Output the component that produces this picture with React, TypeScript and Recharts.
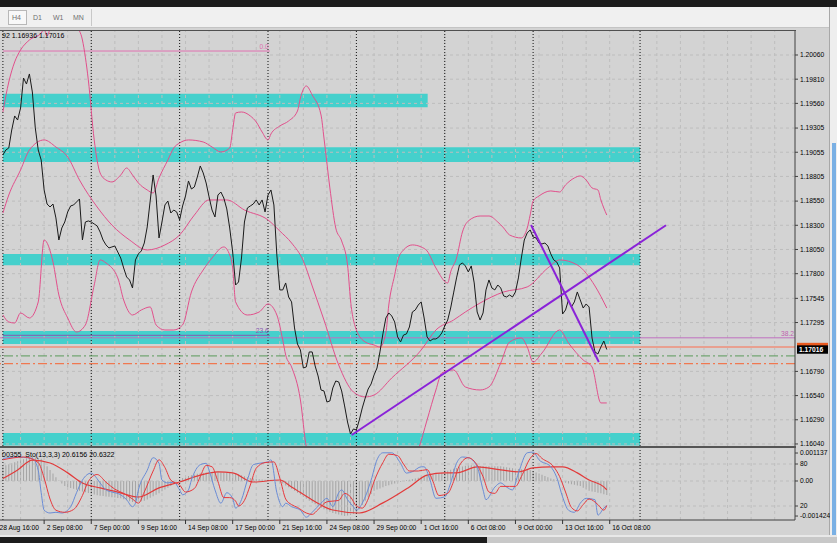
import React from "react";
import { ComposedChart, Line, Bar, XAxis, YAxis, ReferenceLine, ReferenceArea } from "recharts";

const FONT = "'Liberation Sans', Arial, sans-serif";
const BG = "#d3d3d3";
const BAND = "#e2508c";
const GRID = "#bdbdbd";
const X_MAX = 270.9; // bars visible, index 0 = 28 Aug 16:00 (H4)

// ---- price data (H4 closes from bar 2) ----
const firstBar = 2;
const closes = [
  1.19027, 1.19078, 1.19099, 1.19285, 1.1943, 1.19388, 1.19512, 1.19822, 1.1976, 1.19864, 1.19678, 1.19306, 1.19078, 1.18975, 1.18665, 1.1852, 1.18489, 1.1852, 1.18376, 1.18148,
  1.18272, 1.18334, 1.18438, 1.185, 1.1851, 1.18541, 1.18572, 1.18148, 1.18334, 1.18345, 1.18334, 1.18314, 1.18293, 1.18231, 1.18148, 1.18097, 1.18066, 1.18076, 1.18086, 1.18024,
  1.17962, 1.17859, 1.17766, 1.17735, 1.17652, 1.17942, 1.18004, 1.18035, 1.18117, 1.18283, 1.18551, 1.1882, 1.18603, 1.18169, 1.18334, 1.1851, 1.18551, 1.18427, 1.18458, 1.18438,
  1.18355, 1.185, 1.18603, 1.18758, 1.18675, 1.18696, 1.18799, 1.18913, 1.18841, 1.18737, 1.18593, 1.18458, 1.18386, 1.18613, 1.18644, 1.18582, 1.18469, 1.18272, 1.18024, 1.17683,
  1.17714, 1.17962, 1.18334, 1.18479, 1.185, 1.1852, 1.18562, 1.1851, 1.18562, 1.18438, 1.18613, 1.18665, 1.1851, 1.17993, 1.17632, 1.17632, 1.17704, 1.17559, 1.17508, 1.17239,
  1.17073, 1.17011, 1.16825, 1.16836, 1.16991, 1.16991, 1.16846, 1.16743, 1.16598, 1.16588, 1.16474, 1.16484, 1.16619, 1.16691, 1.16681, 1.16588, 1.16433, 1.16267, 1.16143, 1.16195,
  1.16185, 1.16288, 1.16412, 1.16515, 1.16608, 1.1666, 1.16753, 1.16825, 1.16991, 1.17177, 1.17342, 1.17394, 1.17363, 1.17301, 1.17146, 1.17094, 1.17166, 1.17177, 1.17249, 1.17404,
  1.17425, 1.17476, 1.17508, 1.17342, 1.17146, 1.17104, 1.17125, 1.17125, 1.17146, 1.17187, 1.17259, 1.17321, 1.17445, 1.17601, 1.17756, 1.1789, 1.17911, 1.1788, 1.17818, 1.1788,
  1.17704, 1.17404, 1.17321, 1.17394, 1.17632, 1.17735, 1.17652, 1.17632, 1.17683, 1.17652, 1.1757, 1.17559, 1.1758, 1.17559, 1.17611, 1.17756, 1.17962, 1.18148, 1.18221, 1.18252,
  1.18179, 1.18169, 1.18117, 1.18107, 1.18117, 1.18086, 1.18004, 1.17942, 1.17921, 1.17859, 1.17383, 1.17425, 1.17528, 1.17456, 1.17508, 1.17611, 1.17528, 1.17445, 1.17487, 1.17456,
  1.17135, 1.16991, 1.1697, 1.17042, 1.17104, 1.17016,
];

// bollinger bands [bar, price]
const bbUpper: [number, number][] = [
  [2, 1.19471], [4, 1.19781], [6, 1.19988], [8, 1.20112], [11, 1.20215], [15, 1.20287], [16, 1.20329], [17, 1.20256], [18, 1.20329],
  [21, 1.20473], [25, 1.20525], [27, 1.2037], [29, 1.20215], [31, 1.19802], [33, 1.19182], [35, 1.18841], [37, 1.18768], [39, 1.18748],
  [42, 1.1882], [44, 1.18892], [46, 1.1882], [48, 1.18737], [51, 1.18665], [53, 1.18634], [55, 1.18789], [58, 1.18975], [60, 1.19099],
  [62, 1.19151], [65, 1.19182], [70, 1.19161], [73, 1.19109], [76, 1.19058], [79, 1.19099], [80, 1.19285], [81, 1.19461], [83, 1.19471],
  [86, 1.1943], [88, 1.19368], [90, 1.19264], [92, 1.19182], [93, 1.19244], [96, 1.19326], [99, 1.19378], [102, 1.19481], [103, 1.19616],
  [105, 1.1974], [107, 1.19647], [110, 1.1944], [111, 1.19202], [113, 1.18686], [115, 1.18272], [117, 1.18138], [119, 1.1789], [120, 1.17528],
  [122, 1.17218], [125, 1.17094], [128, 1.17063], [130, 1.17042], [132, 1.17187], [133, 1.17476], [135, 1.17787], [136, 1.17931], [138, 1.18045],
  [141, 1.18097], [144, 1.18076], [146, 1.18035], [149, 1.17859], [153, 1.17704], [154, 1.17818], [156, 1.17962], [158, 1.18231], [160, 1.18345],
  [164, 1.18396], [167, 1.18396], [170, 1.18334], [172, 1.18272], [174, 1.182], [178, 1.18169], [180, 1.18272], [181, 1.18407], [182, 1.18551],
  [184, 1.18603], [188, 1.18655], [191, 1.18644], [193, 1.18717], [196, 1.18789], [198, 1.1881], [200, 1.18768], [202, 1.18686], [204, 1.18665],
  [205, 1.18562], [207, 1.18406],
];
const bbMiddle: [number, number][] = [
  [2, 1.18427], [4, 1.18613], [8, 1.18872], [11, 1.19078], [16, 1.19182], [20, 1.19109], [24, 1.19006], [28, 1.18768], [34, 1.18489],
  [39, 1.18303], [45, 1.18148], [51, 1.18045], [57, 1.18097], [62, 1.182], [67, 1.18406], [72, 1.18562], [78, 1.18562], [84, 1.18458],
  [92, 1.18355], [96, 1.18241], [100, 1.18117], [104, 1.17931], [107, 1.17673], [111, 1.17321], [116, 1.16856], [121, 1.16577], [125, 1.16526],
  [128, 1.16546], [134, 1.16722], [144, 1.17011], [149, 1.17218], [155, 1.17321], [159, 1.17404], [164, 1.17497], [172, 1.17611], [180, 1.17663],
  [187, 1.17859], [191, 1.17942], [197, 1.1789], [203, 1.17673], [207, 1.17445],
];
const bbLower: [number, number][] = [
  [2, 1.17373], [4, 1.17301], [6, 1.1729], [8, 1.17394], [11, 1.17342], [14, 1.17508], [16, 1.18148], [19, 1.17921], [21, 1.1758],
  [24, 1.17342], [27, 1.17197], [30, 1.1727], [33, 1.17683], [35, 1.17942], [37, 1.17911], [41, 1.17756], [43, 1.17528], [46, 1.17373],
  [49, 1.17425], [52, 1.17456], [54, 1.1727], [57, 1.17218], [60, 1.17218], [63, 1.1727], [66, 1.17611], [70, 1.17838], [73, 1.17962],
  [77, 1.18076], [79, 1.17993], [80, 1.17859], [81, 1.17508], [85, 1.17373], [89, 1.17404], [92, 1.17487], [95, 1.17373], [97, 1.17115],
  [98, 1.1696], [100, 1.16836], [103, 1.16495], [105, 1.16009], [108, 1.15771], [116, 1.15668], [127, 1.15926], [135, 1.15668], [140, 1.15771],
  [143, 1.15978], [146, 1.16288], [149, 1.16598], [151, 1.16774], [155, 1.16805], [159, 1.16629], [164, 1.16598], [167, 1.16629], [171, 1.16877],
  [174, 1.17094], [178, 1.17135], [180, 1.17042], [182, 1.16887], [185, 1.1698], [191, 1.17218], [194, 1.17084], [199, 1.16908], [202, 1.16836],
  [205, 1.16464], [207, 1.16464],
];

// chart objects
const zones: [number, number, number, number][] = [
  [2, 146.2, 1.1952, 1.1966],
  [2, 218.3, 1.18954, 1.19106],
  [2, 218.3, 1.17887, 1.18004],
  [2, 218.3, 1.17074, 1.17208],
  [2, 218.3, 1.16023, 1.16154],
];
const trendLines: [number, number, number, number][] = [
  [120.4, 1.16133, 227.1, 1.183],
  [181.3, 1.18303, 204.3, 1.16887],
];
const fibEnd = 92.6;
const fib0 = 1.20101;
const fib236 = 1.17163;
const fib382 = 1.17137;
const askPrice = 1.17042;
const bidPrice = 1.17016;
const greenLevel = 1.1695;
const orangeLevel = 1.1687;

// axes
const priceTicks = [1.2006, 1.1981, 1.1956, 1.19305, 1.19055, 1.18805, 1.1855, 1.183, 1.1805, 1.178, 1.17545, 1.17295, 1.1679, 1.1654, 1.1629, 1.1604];
const separators = [2, 32, 62, 92, 122, 152, 182, 218.3];
const gridBars = Array.from({ length: 34 }, (_, k) => k * 8);
const dateTicks = [0, 16, 32, 48, 64, 80, 96, 112, 128, 144, 160, 176, 192, 208];
const dateLabels = ["28 Aug 16:00", "2 Sep 08:00", "7 Sep 00:00", "9 Sep 16:00", "14 Sep 08:00", "17 Sep 00:00", "21 Sep 16:00", "24 Sep 08:00", "29 Sep 00:00", "1 Oct 16:00", "6 Oct 08:00", "9 Oct 00:00", "13 Oct 16:00", "16 Oct 08:00"];

// ---- indicator data ----
// MACD histogram per bar from bar 2, in 1e-5 units
const macdHistE5 = [
  60, 64, 68, 72, 76, 80, 84, 88, 92, 96, 98, 96, 93, 90, 76, 60, 45, 30, 15, 2,
  -10, -20, -24, -28, -32, -36, -40, -43, -46, -49, -52, -55, -58, -60, -61, -63, -64, -66, -67, -69,
  -70, -74, -78, -82, -85, -84, -83, -82, -80, -75, -68, -62, -56, -50, -42, -35, -27, -20, -10, 0,
  6, 12, 16, 20, 23, 26, 29, 31, 33, 35, 36, 37, 37, 36, 35, 34, 33, 32, 31, 30,
  27, 23, 19, 15, 12, 10, 9, 7, 6, 5, 5, 5, 5, 0, -5, -10, -18, -25, -32, -40,
  -48, -56, -64, -72, -80, -88, -95, -103, -110, -115, -120, -125, -130, -133, -136, -139, -142, -140, -137, -134,
  -130, -115, -98, -80, -66, -53, -40, -35, -30, -25, -20, -17, -13, -10, -7, -3, 0, 3, 5, 8,
  10, 13, 17, 20, 22, 24, 26, 28, 30, 34, 38, 42, 46, 50, 53, 56, 59, 62, 65, 64,
  63, 62, 61, 60, 60, 60, 60, 60, 60, 60, 58, 56, 54, 52, 50, 49, 48, 47, 46, 45,
  40, 35, 30, 25, 20, 15, 10, 7, 3, 0, -3, -7, -10, -13, -15, -18, -20, -27, -33, -40,
  -43, -45, -48, -50, -54, -57,
];
const macdSignal: [number, number][] = [
  [2, 0.0001], [7, 0.00045], [12, 0.00085], [18, 0.00073], [24, 0.00033], [29, -0.00008], [35, -0.00028], [41, -0.00045], [48, -0.00065],
  [55, -0.00028], [62, -0.00004], [69, 0.00024], [75, 0.00037], [80, 0.00033], [87, -0.00004], [96, 0.00004], [100, -0.00024], [107, -0.00077],
  [114, -0.00118], [123, -0.0013], [131, -0.00089], [140, -0.00024], [146, 0.00024], [152, 0.00033], [156, 0.00033], [163, 0.00057], [171, 0.00045],
  [177, 0.00037], [182, 0.00053], [188, 0.00057], [192, 0.00057], [197, 0.00033], [201, 0.00004], [206, -0.00024], [207, -0.000355],
];
const stochMain: [number, number][] = [
  [2, 88], [7, 90], [12, 88], [14, 71], [15, 39], [16, 14], [18, 10], [20, 11], [22, 10], [25, 19], [27, 39], [29, 57], [32, 67], [33, 64],
  [35, 53], [37, 43], [39, 40], [42, 36], [44, 29], [46, 19], [47, 24], [48, 43], [51, 71], [53, 89], [55, 81], [56, 57], [58, 53], [60, 54],
  [62, 43], [63, 36], [65, 43], [66, 57], [69, 79], [71, 81], [72, 71], [74, 43], [76, 24], [78, 39], [80, 31], [81, 17], [83, 29], [85, 57],
  [87, 79], [89, 81], [92, 83], [93, 86], [95, 39], [97, 19], [98, 24], [100, 19], [103, 14], [105, 4], [107, 11], [110, 24], [112, 31],
  [114, 19], [116, 39], [117, 43], [119, 29], [121, 19], [122, 14], [124, 24], [127, 57], [129, 86], [131, 96], [134, 96], [137, 81], [139, 67],
  [141, 69], [144, 76], [145, 76], [147, 57], [149, 31], [152, 33], [154, 53], [156, 81], [158, 90], [160, 89], [163, 76], [165, 43], [166, 29],
  [169, 47], [171, 53], [173, 47], [175, 43], [177, 67], [180, 96], [182, 97], [184, 86], [188, 76], [190, 61], [192, 33], [194, 14], [196, 11],
  [198, 24], [200, 31], [203, 29], [204, 7], [206, 17], [207, 20.6],
];
const stochSignal: [number, number][] = [
  [2, 86], [9, 90], [14, 82], [16, 60], [18, 30], [20, 14], [23, 11], [26, 15], [29, 35], [31, 55], [34, 65], [37, 54], [40, 44], [43, 38],
  [46, 30], [48, 24], [50, 40], [53, 70], [55, 86], [57, 75], [59, 57], [62, 50], [64, 40], [67, 45], [69, 62], [71, 78], [73, 76], [75, 55],
  [77, 32], [79, 32], [81, 27], [82, 20], [84, 28], [86, 50], [88, 74], [91, 82], [94, 83], [96, 60], [98, 30], [100, 22], [102, 18], [105, 10],
  [107, 8], [109, 15], [112, 26], [114, 27], [116, 28], [118, 38], [120, 33], [122, 20], [124, 17], [126, 30], [128, 55], [131, 82], [133, 94],
  [136, 92], [138, 80], [140, 70], [143, 70], [146, 72], [148, 55], [150, 35], [153, 38], [155, 55], [157, 78], [160, 89], [162, 84], [165, 62],
  [167, 40], [169, 38], [171, 48], [174, 48], [176, 48], [178, 62], [181, 88], [183, 95], [185, 88], [189, 76], [191, 62], [193, 40], [195, 18],
  [197, 13], [199, 22], [201, 30], [204, 22], [206, 14], [207, 20.6],
];
const stochLevels = [80, 20];
const macdTicks = [0.001137, 0, -0.001424];

const toPts = (arr: [number, number][]) => arr.map(([i, v]) => ({ i, v }));
const priceTable = closes.map((v, k) => ({ i: firstBar + k, v }));
const histTable = macdHistE5.map((h, k) => ({ i: firstBar + k, h: h * 1e-5 }));

const EndLabel = ({ viewBox, text, color }: any) => (
  <text x={viewBox.x + viewBox.width - 1} y={viewBox.y - 2} textAnchor="end" fontSize={6.7} fill={color} fontFamily={FONT}>
    {text}
  </text>
);

// level value written in the right-hand scale
const AxisLabel = ({ viewBox, text }: any) => (
  <g>
    <line x1={viewBox.x + viewBox.width} x2={viewBox.x + viewBox.width + 3} y1={viewBox.y} y2={viewBox.y} stroke="#404040" />
    <text x={viewBox.x + viewBox.width + 5} y={viewBox.y + 2.4} fontSize={6.7} fill="#000" fontFamily={FONT}>
      {text}
    </text>
  </g>
);

const PriceBox = ({ viewBox, text, fill }: any) => {
  const x = viewBox.x + viewBox.width + 2;
  const y = viewBox.y;
  return (
    <g>
      <rect x={x} y={y - 4.2} width={31} height={8.4} fill={fill} />
      {text && (
        <text x={x + 2} y={y + 2.4} fontSize={6.7} fill="#fff" fontFamily={FONT} fontWeight="bold">
          {text}
        </text>
      )}
    </g>
  );
};

const DateTick = (props: any) => {
  const { x, y, payload } = props;
  const k = dateTicks.indexOf(payload.value);
  return (
    <g>
      <line x1={x} x2={x} y1={y} y2={y + 4} stroke="#333" />
      <text x={x + 2.5} y={y + 9.5} fontSize={6.7} fill="#000" fontFamily={FONT}>
        {dateLabels[k]}
      </text>
    </g>
  );
};

const axisTick = { fontSize: 6.7, fill: "#000", fontFamily: FONT };

export default function App() {
  return (
    <div style={{ position: "relative", width: 837, height: 543, overflow: "hidden", background: BG, fontFamily: FONT }}>
      <style>{"body{margin:0}"}</style>
      {/* window chrome */}
      <div style={{ position: "absolute", left: 0, top: 0, width: 837, height: 7, background: "#1c1c1c" }} />
      <div style={{ position: "absolute", left: 0, top: 7, width: 837, height: 20, background: "#f0f0f0", borderBottom: "1px solid #c4c4c4" }} />
      <div style={{ position: "absolute", left: 8, top: 10, width: 19, height: 15, background: "#f8f8f8", border: "1px solid #b8b8b8", boxSizing: "border-box" }} />
      {["H4", "D1", "W1", "MN"].map((t, k) => (
        <div key={t} style={{ position: "absolute", left: [12, 33, 53, 73][k], top: 14, fontSize: 7, color: "#707070", lineHeight: "8px" }}>
          {t}
        </div>
      ))}
      <div style={{ position: "absolute", left: 91, top: 9, width: 1, height: 17, background: "#c8c8c8" }} />
      <div style={{ position: "absolute", left: 0, top: 30, width: 796, height: 1, background: "#505050" }} />
      <div style={{ position: "absolute", left: 829, top: 7, width: 8, height: 530, background: "#eeeeee", borderLeft: "1px solid #a8a8a8" }} />
      <div style={{ position: "absolute", left: 832, top: 143, width: 4, height: 392, background: "#7ab0e4" }} />

      {/* main price chart */}
      <div style={{ position: "absolute", left: -3, top: 31 }}>
        <ComposedChart width={833} height={415} margin={{ top: 0, right: 0, bottom: 0, left: 0 }}>
          <XAxis type="number" dataKey="i" domain={[0, X_MAX]} hide allowDataOverflow />
          <YAxis
            orientation="right"
            width={35}
            type="number"
            domain={[1.16019, 1.20308]}
            allowDataOverflow
            ticks={priceTicks}
            interval={0}
            tickFormatter={(v: number) => v.toFixed(5)}
            tick={axisTick}
            tickSize={3}
            tickMargin={2}
            axisLine={{ stroke: "#404040" }}
            tickLine={{ stroke: "#404040" }}
          />
          {zones.map(([x1, x2, y1, y2], k) => (
            <ReferenceArea key={`z${k}`} x1={x1} x2={x2} y1={y1} y2={y2} fill="#45d0cc" fillOpacity={1} stroke="none" />
          ))}
          {priceTicks.map((v) => (
            <ReferenceLine key={`gy${v}`} y={v} stroke={GRID} strokeDasharray="3 3" />
          ))}
          {gridBars.map((b) => (
            <ReferenceLine key={`gx${b}`} x={b} stroke={GRID} strokeDasharray="3 3" />
          ))}
          {separators.map((b) => (
            <ReferenceLine key={`s${b}`} x={b} stroke="#111" strokeDasharray="1 2" />
          ))}
          <ReferenceLine
            segment={[{ x: firstBar, y: fib0 }, { x: fibEnd, y: fib0 }]}
            stroke="#e070b0"
            label={<EndLabel text="0.0" color="#e070b0" />}
          />
          <ReferenceLine
            segment={[{ x: firstBar, y: fib236 }, { x: fibEnd, y: fib236 }]}
            stroke="#8858b0"
            label={<EndLabel text="23.6" color="#8858b0" />}
          />
          <ReferenceLine y={fib382} stroke="#c070c0" label={<EndLabel text="38.2" color="#c060b0" />} />
          <ReferenceLine y={greenLevel} stroke="#5a9a5a" strokeDasharray="9 3 2 3" />
          <ReferenceLine y={orangeLevel} stroke="#f07850" strokeWidth={1.3} strokeDasharray="9 3 2 3" />
          <ReferenceLine y={askPrice} stroke="#e8a090" strokeWidth={2} label={<PriceBox fill="#e85a20" />} />
          <ReferenceLine y={bidPrice} stroke="none" strokeOpacity={0} label={<PriceBox fill="#000" text="1.17016" />} />
          <Line type="monotone" data={toPts(bbUpper)} dataKey="v" stroke={BAND} strokeWidth={1} dot={false} isAnimationActive={false} />
          <Line type="monotone" data={toPts(bbMiddle)} dataKey="v" stroke={BAND} strokeWidth={1} dot={false} isAnimationActive={false} />
          <Line type="monotone" data={toPts(bbLower)} dataKey="v" stroke={BAND} strokeWidth={1} dot={false} isAnimationActive={false} />
          <Line data={priceTable} dataKey="v" stroke="#1a1a1a" strokeWidth={1} dot={false} isAnimationActive={false} />
          {trendLines.map(([x1, y1, x2, y2], k) => (
            <ReferenceLine key={`t${k}`} segment={[{ x: x1, y: y1 }, { x: x2, y: y2 }]} stroke="#8a22d8" strokeWidth={2} />
          ))}
        </ComposedChart>
      </div>
      <div style={{ position: "absolute", left: 2, top: 32, fontSize: 7, color: "#000", lineHeight: "8px", whiteSpace: "nowrap" }}>
        92 1.16936 1.17016
      </div>

      {/* panel separator */}
      <div style={{ position: "absolute", left: 0, top: 446, width: 796, height: 2, background: "#555" }} />

      {/* indicator panel */}
      <div style={{ position: "absolute", left: -3, top: 448 }}>
        <ComposedChart width={833} height={88} data={histTable} margin={{ top: 0, right: 0, bottom: 0, left: 0 }}>
          <XAxis
            type="number"
            dataKey="i"
            domain={[0, X_MAX]}
            allowDataOverflow
            ticks={dateTicks}
            interval={0}
            height={16}
            tickSize={0}
            tickMargin={0}
            tickLine={false}
            tick={<DateTick />}
            axisLine={{ stroke: "#404040" }}
          />
          <YAxis yAxisId="s" hide type="number" domain={[0, 102.86]} />
          <YAxis
            yAxisId="m"
            orientation="right"
            width={35}
            type="number"
            domain={[-0.001585, 0.001341]}
            allowDataOverflow
            ticks={macdTicks}
            interval={0}
            tickFormatter={(v: number) => (v === 0 ? "0.00" : v.toFixed(6))}
            tick={axisTick}
            tickSize={3}
            tickMargin={2}
            axisLine={{ stroke: "#404040" }}
            tickLine={{ stroke: "#404040" }}
          />
          {stochLevels.map((v) => (
            <ReferenceLine key={`sg${v}`} yAxisId="s" y={v} stroke={GRID} strokeDasharray="3 3" label={<AxisLabel text={String(v)} />} />
          ))}
          <ReferenceLine yAxisId="m" y={0} stroke={GRID} strokeDasharray="3 3" />
          {gridBars.map((b) => (
            <ReferenceLine key={`igx${b}`} yAxisId="m" x={b} stroke={GRID} strokeDasharray="3 3" />
          ))}
          {separators.map((b) => (
            <ReferenceLine key={`is${b}`} yAxisId="m" x={b} stroke="#111" strokeDasharray="1 2" />
          ))}
          <Bar yAxisId="m" dataKey="h" fill="#a4a4a4" barSize={1} isAnimationActive={false} />
          <Line yAxisId="m" type="monotone" data={toPts(macdSignal)} dataKey="v" stroke="#e23a3a" strokeWidth={1.2} dot={false} isAnimationActive={false} />
          <Line yAxisId="s" type="monotone" data={toPts(stochMain)} dataKey="v" stroke="#6a8cd6" strokeWidth={1} dot={false} isAnimationActive={false} />
          <Line yAxisId="s" type="monotone" data={toPts(stochSignal)} dataKey="v" stroke="#e8383c" strokeWidth={1} dot={false} isAnimationActive={false} />
        </ComposedChart>
      </div>
      <div style={{ position: "absolute", left: 2, top: 451, fontSize: 7, color: "#000", lineHeight: "8px", whiteSpace: "nowrap" }}>
        00355&nbsp;&nbsp;Sto(13,3,3) 20.6156 20.6322
      </div>

      {/* bottom chrome */}
      <div style={{ position: "absolute", left: 0, top: 535, width: 837, height: 2, background: "#e8e8e8" }} />
      <div style={{ position: "absolute", left: 0, top: 537, width: 487, height: 6, background: "#1c1c1c" }} />
      <div style={{ position: "absolute", left: 487, top: 537, width: 350, height: 6, background: "#c8c8c8" }} />
    </div>
  );
}
